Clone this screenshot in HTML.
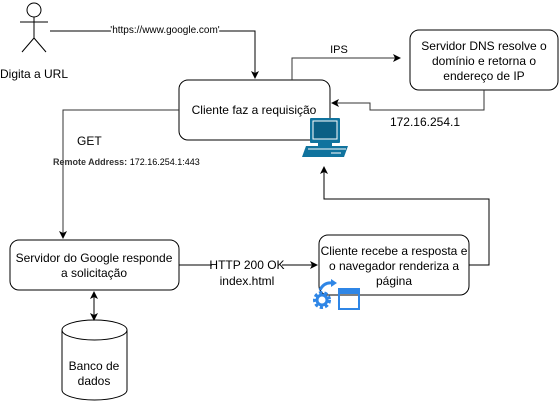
<!DOCTYPE html>
<html><head><meta charset="utf-8"><style>
body{margin:0;background:#fff;width:560px;height:401px;overflow:hidden}
text{font-family:"Liberation Sans",sans-serif;fill:#000}
</style></head><body>
<svg width="560" height="401" viewBox="0 0 560 401" xmlns="http://www.w3.org/2000/svg">
<defs><marker id="a" markerWidth="8" markerHeight="8" refX="7" refY="4" orient="auto" markerUnits="userSpaceOnUse"><path d="M0,0 L8,4 L0,8 L2,4 z" fill="#000"/></marker>
<marker id="b" markerWidth="8" markerHeight="8" refX="1" refY="4" orient="auto" markerUnits="userSpaceOnUse"><path d="M8,0 L0,4 L8,8 L6,4 z" fill="#000"/></marker></defs>
<g fill="none" stroke="#000" stroke-width="1">
<circle cx="34" cy="10" r="7"/>
<path d="M34,17 V38 M20,22 H48 M34,38 L22,52 M34,38 L46,52"/>
<path d="M50,31 H255 V78" marker-end="url(#a)"/>
<rect x="179" y="80" width="151" height="60" rx="9"/>
<path d="M292,80 V58 H400" stroke="#333" marker-end="url(#a)"/>
<rect x="410" y="30" width="148" height="60" rx="9"/>
<path d="M484,90 V110 H370 V103 H332" stroke="#333" marker-end="url(#a)"/>
<path d="M179,110 H63 V238" stroke="#333" marker-end="url(#a)"/>
<rect x="10" y="240" width="169" height="50" rx="9"/>
<path d="M179,265 H212 M282,265 H317" marker-end="url(#a)"/>
<rect x="319" y="235" width="150" height="60" rx="9"/>
<path d="M469,265 H489 V199 H324 V167" marker-end="url(#a)"/>
<path d="M94,292 V320" marker-start="url(#b)" marker-end="url(#a)"/>
<path d="M62,330 V390 A32.5,10 0 0 0 127,390 V330"/>
<ellipse cx="94.5" cy="330" rx="32.5" ry="10"/>
</g>
<rect x="212" y="258" width="70" height="14" fill="#fff"/>
<!-- computer -->
<rect x="310" y="118" width="30" height="25" rx="1" fill="#10739e"/>
<rect x="313" y="121" width="24" height="18" fill="#0b5f85" stroke="#fff" stroke-width="1"/>
<rect x="318" y="143" width="14" height="3" fill="#10739e"/>
<path d="M306,146 h42 l-4,11 h-42 z" fill="#10739e"/>
<line x1="308" y1="149" x2="346" y2="149" stroke="#fff" stroke-width="1"/>
<line x1="331" y1="153" x2="341" y2="153" stroke="#fff"/>
<!-- gear & window -->
<circle cx="322" cy="300" r="7" fill="none" stroke="#2f86e6" stroke-width="4" stroke-dasharray="3 2"/>
<circle cx="322" cy="300" r="5" fill="none" stroke="#2f86e6" stroke-width="3"/>
<path d="M320,290 q4,-8 12,-7" fill="none" stroke="#2f86e6" stroke-width="3"/>
<path d="M331,279 l6,4 l-6,4 z" fill="#2f86e6"/>
<rect x="339" y="289" width="20" height="20" fill="none" stroke="#2f86e6" stroke-width="2"/>
<rect x="339" y="289" width="20" height="5" fill="#2f86e6"/>
<g font-size="12">
<text x="34" y="78" text-anchor="middle">Digita a URL</text>
<text x="165" y="33" text-anchor="middle" font-size="10" fill="#fff" stroke="#fff" stroke-width="4">'https://www.google.com'</text>
<text x="165" y="33" text-anchor="middle" font-size="10">'https://www.google.com'</text>
<text x="254" y="114" text-anchor="middle">Cliente faz a requisição</text>
<text x="339" y="53" text-anchor="middle" font-size="11">IPS</text>
<text x="484" y="50" text-anchor="middle">Servidor DNS resolve o</text>
<text x="484" y="65" text-anchor="middle">domínio e retorna o</text>
<text x="484" y="80" text-anchor="middle">endereço de IP</text>
<text x="425" y="126" text-anchor="middle">172.16.254.1</text>
<text x="77" y="145">GET</text>
<text x="53" y="165" font-size="9"><tspan font-weight="bold" fill="#333">Remote Address:</tspan> 172.16.254.1:443</text>
<text x="94" y="262" text-anchor="middle">Servidor do Google responde</text>
<text x="94" y="277" text-anchor="middle">a solicitação</text>
<text x="247" y="269" text-anchor="middle">HTTP 200 OK</text>
<text x="247" y="285" text-anchor="middle">index.html</text>
<text x="394" y="255" text-anchor="middle">Cliente recebe a resposta e</text>
<text x="394" y="270" text-anchor="middle">o navegador renderiza a</text>
<text x="394" y="285" text-anchor="middle">página</text>
<text x="94" y="370" text-anchor="middle">Banco de</text>
<text x="94" y="385" text-anchor="middle">dados</text>
</g>
</svg>
</body></html>
